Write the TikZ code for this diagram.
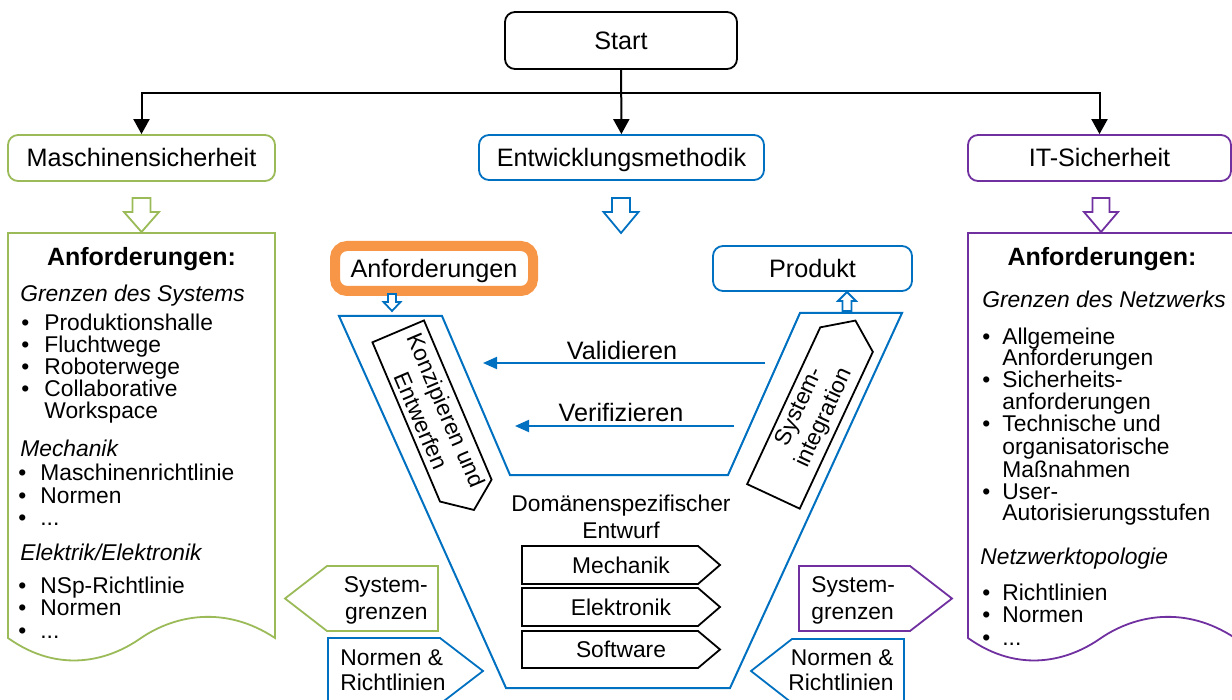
\documentclass[tikz,border=0pt]{standalone}
\usepackage{fontspec}
\setmainfont{Liberation Sans}
\usetikzlibrary{arrows.meta}

\definecolor{mgreen}{HTML}{9BBB59}
\definecolor{mblue}{HTML}{0070C0}
\definecolor{mpurple}{HTML}{7030A0}
\definecolor{morange}{HTML}{F79646}

\newcommand{\bigfont}{\fontsize{12.6}{14}\selectfont}
\newcommand{\smallfont}{\fontsize{11.4}{13.5}\selectfont}
\newcommand{\etc}{.{}.{}.}
% colour, x, top, head, tip, half shaft, half head
\newcommand{\hollowarrow}[7]{%
  \draw[#1,line width=0.9pt,fill=white] (#2-#6,#3) -- (#2+#6,#3) -- (#2+#6,#4) -- (#2+#7,#4) -- (#2,#5) -- (#2-#7,#4) -- (#2-#6,#4) -- cycle;}

\begin{document}
\begin{tikzpicture}[x=0.5pt,y=-0.5pt,
  box/.style={draw,rounded corners=5pt,line width=0.9pt,font=\bigfont,text height=9pt,text depth=0pt},
  lbl/.style={font=\bigfont,text height=9pt,text depth=0pt,inner sep=0pt},
  slbl/.style={font=\smallfont,text height=8.2pt,text depth=0pt,inner sep=0pt},
  txt/.style={font=\smallfont,inner sep=0pt,anchor=base west},
  ttl/.style={font=\fontsize{12.5}{14}\selectfont\bfseries,inner sep=0pt,anchor=base},
  arr/.style={-{Triangle[length=7.5pt,width=8pt]},line width=1pt},
  varr/.style={mblue,line width=1pt,-{Triangle[length=7pt,width=6pt]}}]
\useasboundingbox (0,0) rectangle (1232,700);
\clip (0,0) rectangle (1232,700);

\node[box,minimum width=116pt,minimum height=28.5pt] (start) at (621,40.5) {Start};
\node[box,draw=mgreen,minimum width=133.5pt,minimum height=23pt] (masch) at (141.5,158) {Maschinensicherheit};
\node[box,draw=mblue,minimum width=142.5pt,minimum height=22.5pt] (entw) at (621.5,157.5) {Entwicklungsmethodik};
\node[box,draw=mpurple,minimum width=131.5pt,minimum height=23pt] (itsec) at (1099.5,158) {IT-Sicherheit};

\coordinate (split) at (621,93);
\draw[arr] (start) -- (entw);
\draw[arr] (split) -| (masch);
\draw[arr] (split) -| (itsec);

\hollowarrow{mgreen}{141.5}{198}{212}{232}{9}{17.5}
\hollowarrow{mblue}{621}{198}{212}{233}{9}{17.5}
\hollowarrow{mpurple}{1101}{198}{212}{232}{8.5}{17}

% Maschinensicherheit
\draw[mgreen,line width=0.9pt] (8,233) -- (275,233) -- (275,638) .. controls (225,605) and (175,615) .. (141,638) .. controls (110,660) and (60,675) .. (8,638) -- cycle;
\node[ttl] (gtitle) at (141.5,266) {Anforderungen:};
\foreach \y/\t in {302/Grenzen des Systems, 456/Mechanik, 560/{Elektrik/Elektronik}}
  \node[txt,font=\smallfont\itshape] (gh\y) at (20,\y) {\t};
\foreach \y/\t in {330/Produktionshalle, 352/Fluchtwege, 374/Roboterwege, 396/Collaborative, 418/Workspace}
  \node[txt] (ga\y) at (44,\y) {\t};
\foreach \y in {330,352,374,396}
  \node[txt] (gab\y) at (21,\y) {\textbullet};
\foreach \y/\t in {480/Maschinenrichtlinie, 503/Normen, 525/\etc, 593/NSp-Richtlinie, 615/Normen, 638/\etc}
  \node[txt] (gb\y) at (40,\y) {\t};
\foreach \y in {480,503,525,593,615,638}
  \node[txt] (gbb\y) at (18,\y) {\textbullet};

% IT-Sicherheit
\draw[mpurple,line width=0.9pt] (968,233) -- (1235,233) -- (1235,638) .. controls (1185,605) and (1135,615) .. (1101,638) .. controls (1070,660) and (1020,675) .. (968,638) -- cycle;
\node[ttl] (ptitle) at (1102,266) {Anforderungen:};
\foreach \x/\y/\t in {982/307/Grenzen des Netzwerks, 980/564/Netzwerktopologie}
  \node[txt,font=\smallfont\itshape] (ph\y) at (\x,\y) {\t};
\foreach \y/\t in {344/Allgemeine, 365/Anforderungen, 387/Sicherheits-, 409/anforderungen, 431/Technische und, 454/organisatorische, 477/Maßnahmen, 499/User-, 520/Autorisierungsstufen, 600/Richtlinien, 622/Normen, 645/\etc}
  \node[txt] (pa\y) at (1002,\y) {\t};
\foreach \y in {344,387,431,499,600,622,645}
  \node[txt] (pab\y) at (982,\y) {\textbullet};

% V-Modell
\draw[mblue,line width=1pt] (339,316) -- (442,316) -- (510,475) -- (728,475) -- (800,313) -- (902,313) -- (730,688) -- (506,688) -- cycle;
\node[draw=morange,line width=5pt,rounded corners=6pt,minimum width=99pt,minimum height=22.5pt,font=\bigfont,text height=9pt,text depth=0pt] (anf) at (434,268.5) {Anforderungen};
\node[box,draw=mblue,minimum width=99.5pt,minimum height=22.5pt] (prod) at (812.5,268.5) {Produkt};
\hollowarrow{mblue}{392}{294}{302}{311}{4}{8.5}
\hollowarrow{mblue}{847}{311}{301}{292}{4.5}{9}

\coordinate (valR) at (765,363);
\coordinate (valL) at (483,363);
\coordinate (verR) at (734,426);
\coordinate (verL) at (515,426);
\draw[varr] (valR) -- (valL);
\draw[varr] (verR) -- (verL);
\node[lbl] (val) at (622,350) {Validieren};
\node[lbl] (ver) at (621,413) {Verifizieren};

\begin{scope}[shift={(432,411)},rotate=-67]
  \draw[line width=0.9pt] (-86.5,-28) -- (86.5,-28) -- (107.5,0) -- (86.5,28) -- (-86.5,28) -- cycle;
  \node[rotate=-67,align=center,font=\smallfont] (konz) at (5,0) {Konzipieren und\\Entwerfen};
\end{scope}
\begin{scope}[shift={(810,418)},rotate=65]
  \draw[line width=0.9pt] (-86.5,-29) -- (86.5,-29) -- (107.5,0) -- (86.5,29) -- (-86.5,29) -- cycle;
  \node[rotate=65,align=center,font=\smallfont] (sysint) at (6,0) {System-\\integration};
\end{scope}

\node[align=center,font=\smallfont] (dom) at (621,516.5) {Domänenspezifischer\\Entwurf};
\foreach \n/\t/\b/\s in {mech/546/584/Mechanik, elek/588/626/Elektronik, soft/631/668/Software}{
  \draw[line width=0.9pt] (522,\t) -- (698,\t) -- (720,{(\t+\b)/2}) -- (698,\b) -- (522,\b) -- cycle;
  \node[slbl] (\n) at (621,{(\t+\b)/2}) {\s};
}

% Grenzen und Normen
\draw[mgreen,line width=0.9pt] (438,566) -- (327,566) -- (285,598.5) -- (327,631) -- (438,631) -- cycle;
\node[align=right,anchor=east,font=\smallfont,inner sep=0pt] (sgl) at (428,600) {System-\\grenzen};
\draw[mpurple,line width=0.9pt] (799,566) -- (910,566) -- (952,598.5) -- (910,631) -- (799,631) -- cycle;
\node[align=left,anchor=west,font=\smallfont,inner sep=0pt] (sgr) at (811,600) {System-\\grenzen};
\draw[mblue,line width=0.9pt] (328,638) -- (440,638) -- (483,671) -- (440,704) -- (328,704) -- cycle;
\node[align=left,anchor=west,font=\fontsize{11.4}{12.5}\selectfont,inner sep=0pt] (nrl) at (340,670) {Normen \&\\Richtlinien};
\draw[mblue,line width=0.9pt] (904,639) -- (792,639) -- (751,671) -- (792,703) -- (904,703) -- cycle;
\node[align=right,anchor=east,font=\fontsize{11.4}{12.5}\selectfont,inner sep=0pt] (nrr) at (894,670) {Normen \&\\Richtlinien};
\end{tikzpicture}
\end{document}
